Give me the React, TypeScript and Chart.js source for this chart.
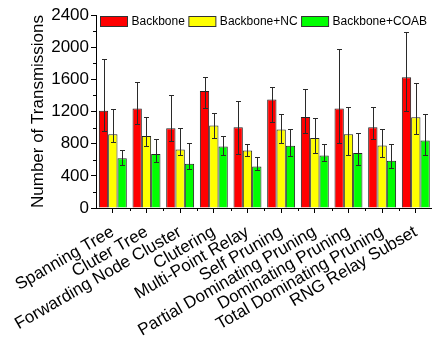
import React, { useEffect, useRef } from "react";
import { Chart, registerables } from "chart.js";

Chart.register(...registerables);

const categories = [
  "Spanning Tree",
  "Cluter Tree",
  "Forwarding Node Cluster",
  "Clutering",
  "Multi-Point Relay",
  "Self Pruning",
  "Partial Dominating Pruning",
  "Dominating Pruning",
  "Total Dominating Pruning",
  "RNG Relay Subset",
];

const seriesNames = ["Backbone", "Backbone+NC", "Backbone+COAB"];
const seriesColors = ["#ff0000", "#ffff00", "#00ff00"];

const backbone = [1210, 1237, 993, 1456, 1005, 1348, 1133, 1237, 1005, 1626];
const backboneHigh = [1850, 1572, 1410, 1634, 1332, 1509, 1477, 1975, 1254, 2192];
const backboneLow = [960, 1043, 839, 1241, 670, 1073, 938, 814, 856, 1204];

const nc = [918, 894, 727, 1025, 715, 976, 869, 918, 777, 1130];
const ncHigh = [1236, 1137, 993, 1183, 798, 1167, 1117, 1254, 988, 1552];
const ncLow = [823, 765, 662, 876, 641, 807, 678, 658, 633, 918];

const coab = [620, 670, 550, 765, 517, 773, 653, 683, 587, 839];
const coabHigh = [724, 852, 814, 894, 629, 981, 802, 938, 798, 1167];
const coabLow = [533, 566, 484, 662, 472, 649, 587, 533, 492, 662];

const yTicks = [0, 400, 800, 1200, 1600, 2000, 2400];
const yMinorTicks = [200, 600, 1000, 1400, 1800, 2200];

const FONT = "'Liberation Sans', Arial, sans-serif";

const errorHigh = [backboneHigh, ncHigh, coabHigh];
const errorLow = [backboneLow, ncLow, coabLow];

const errorBarPlugin = {
  id: "errorBars",
  afterDatasetsDraw(chart: any) {
    const ctx = chart.ctx;
    const y = chart.scales.y;
    ctx.save();
    ctx.strokeStyle = "#2a2a2a";
    ctx.lineWidth = 1;
    chart.data.datasets.forEach((_ds: any, i: number) => {
      const meta = chart.getDatasetMeta(i);
      meta.data.forEach((bar: any, j: number) => {
        const x = Math.round(bar.x) + 0.5;
        const yh = Math.round(y.getPixelForValue(errorHigh[i][j])) + 0.5;
        const yl = Math.round(y.getPixelForValue(errorLow[i][j])) + 0.5;
        ctx.beginPath();
        ctx.moveTo(x, yh);
        ctx.lineTo(x, yl);
        ctx.moveTo(x - 2.5, yh);
        ctx.lineTo(x + 2.5, yh);
        ctx.moveTo(x - 2.5, yl);
        ctx.lineTo(x + 2.5, yl);
        ctx.stroke();
      });
    });
    ctx.restore();
  },
};

const minorTickPlugin = {
  id: "minorTicks",
  afterDraw(chart: any) {
    const ctx = chart.ctx;
    const area = chart.chartArea;
    const y = chart.scales.y;
    ctx.save();
    ctx.strokeStyle = "#000";
    ctx.lineWidth = 1;
    ctx.beginPath();
    yMinorTicks.forEach((v) => {
      const py = Math.round(y.getPixelForValue(v)) + 0.5;
      ctx.moveTo(area.left - 3, py);
      ctx.lineTo(area.left, py);
    });
    const n = categories.length;
    const w = (area.right - area.left) / n;
    for (let i = 1; i < n; i++) {
      const px = Math.round(area.left + i * w) + 0.5;
      ctx.moveTo(px, area.bottom);
      ctx.lineTo(px, area.bottom + 3);
    }
    ctx.stroke();
    ctx.restore();
  },
};

const legendPlugin = {
  id: "insideLegend",
  afterDraw(chart: any) {
    const ctx = chart.ctx;
    const area = chart.chartArea;
    ctx.save();
    ctx.font = `12px ${FONT}`;
    ctx.textBaseline = "middle";
    ctx.fillStyle = "#000";
    let x = area.left + 4.5;
    const top = area.top + 1.5;
    const boxW = 27;
    const boxH = 10;
    seriesNames.forEach((name, i) => {
      ctx.fillStyle = seriesColors[i];
      ctx.fillRect(x, top, boxW, boxH);
      ctx.strokeStyle = "#333";
      ctx.lineWidth = 1;
      ctx.strokeRect(x, top, boxW, boxH);
      ctx.fillStyle = "#000";
      ctx.fillText(name, x + boxW + 4, top + boxH / 2 + 0.5);
      x += boxW + 4 + ctx.measureText(name).width + 4;
    });
    ctx.restore();
  },
};

export default function App() {
  const ref = useRef<HTMLCanvasElement | null>(null);

  useEffect(() => {
    document.body.style.margin = "0";
    const values = [backbone, nc, coab];
    const chart = new Chart(ref.current as HTMLCanvasElement, {
      type: "bar",
      data: {
        labels: categories,
        datasets: seriesNames.map((name, i) => ({
          label: name,
          data: values[i],
          backgroundColor: seriesColors[i],
          borderColor: "#222",
          borderWidth: 1,
          categoryPercentage: 0.83,
          barPercentage: 1.0,
        })),
      },
      options: {
        responsive: false,
        animation: false,
        devicePixelRatio: 1,
        layout: { padding: { left: 0, right: 0, top: 15, bottom: 0 } },
        plugins: {
          legend: { display: false },
          tooltip: { enabled: false },
        },
        scales: {
          x: {
            type: "category",
            offset: true,
            grid: {
              display: true,
              drawOnChartArea: false,
              drawTicks: true,
              tickLength: 5,
              offset: false,
              color: "#000",
            },
            border: { display: true, color: "#000", width: 1 },
            ticks: {
              color: "#000",
              font: { family: FONT, size: 17 },
              minRotation: 30,
              maxRotation: 30,
              autoSkip: false,
              padding: 9,
            },
            afterFit: (s: any) => {
              s.height = 130;
            },
          },
          y: {
            min: 0,
            max: 2400,
            afterBuildTicks: (s: any) => {
              s.ticks = yTicks.map((v) => ({ value: v }));
            },
            grid: {
              display: true,
              drawOnChartArea: false,
              drawTicks: true,
              tickLength: 5,
              color: "#000",
            },
            border: { display: true, color: "#000", width: 1 },
            ticks: {
              color: "#000",
              font: { family: FONT, size: 17 },
              padding: 2,
              callback: (v: any) => String(v),
            },
            title: {
              display: true,
              text: "Number of Transmissions",
              color: "#000",
              font: { family: FONT, size: 17 },
              padding: { top: 28, bottom: 0 },
            },
            afterFit: (s: any) => {
              s.width = 96;
            },
          },
        },
      },
      plugins: [errorBarPlugin, minorTickPlugin, legendPlugin],
    });
    return () => chart.destroy();
  }, []);

  return (
    <div
      style={{
        position: "fixed",
        left: 0,
        top: 0,
        width: 432,
        height: 338,
        overflow: "hidden",
        background: "#fff",
      }}
    >
      <canvas ref={ref} width={435} height={338} style={{ width: 435, height: 338 }} />
    </div>
  );
}
